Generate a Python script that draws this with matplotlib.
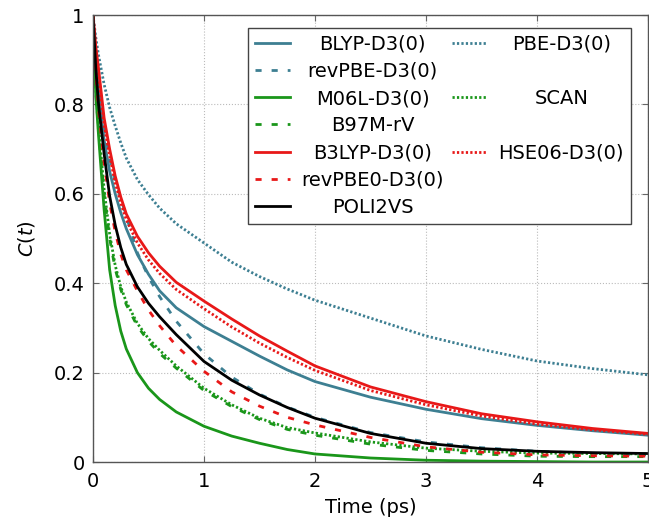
import matplotlib
matplotlib.use("Agg")
import matplotlib.pyplot as plt
from matplotlib.lines import Line2D

# time grid (ps) and correlation values
t = [0, 0.025, 0.05, 0.1, 0.15, 0.2, 0.25, 0.3, 0.4, 0.5, 0.6, 0.75,
     1.0, 1.25, 1.5, 1.75, 2.0, 2.5, 3.0, 3.5, 4.0, 4.5, 5.0]

blyp = [1.0, 0.90, 0.83, 0.72, 0.65, 0.60, 0.558, 0.522, 0.464, 0.42, 0.383, 0.345,
        0.303, 0.27, 0.237, 0.206, 0.18, 0.145, 0.118, 0.097, 0.082, 0.07, 0.06]
revpbe = [1.0, 0.91, 0.85, 0.75, 0.68, 0.63, 0.59, 0.55, 0.468, 0.414, 0.37, 0.315,
          0.242, 0.19, 0.152, 0.123, 0.10, 0.066, 0.045, 0.032, 0.024, 0.019, 0.016]
pbe = [1.0, 0.95, 0.91, 0.845, 0.793, 0.752, 0.714, 0.68, 0.632, 0.598, 0.568, 0.533,
       0.49, 0.447, 0.415, 0.387, 0.362, 0.322, 0.282, 0.252, 0.226, 0.209, 0.195]
m06l = [1.0, 0.82, 0.73, 0.565, 0.43, 0.35, 0.293, 0.253, 0.20, 0.165, 0.14, 0.112,
        0.08, 0.058, 0.042, 0.028, 0.018, 0.009, 0.004, 0.002, 0.001, 0.0, 0.0]
b97m = [1.0, 0.83, 0.74, 0.60, 0.50, 0.432, 0.386, 0.352, 0.304, 0.27, 0.243, 0.21,
        0.16, 0.124, 0.095, 0.073, 0.06, 0.04, 0.026, 0.018, 0.013, 0.012, 0.012]
scan = [1.0, 0.84, 0.75, 0.61, 0.51, 0.44, 0.392, 0.358, 0.31, 0.276, 0.25, 0.215,
        0.165, 0.128, 0.098, 0.077, 0.065, 0.045, 0.031, 0.024, 0.02, 0.019, 0.018]
b3lyp = [1.0, 0.93, 0.88, 0.77, 0.70, 0.64, 0.593, 0.555, 0.505, 0.468, 0.438, 0.402,
         0.36, 0.32, 0.282, 0.248, 0.215, 0.168, 0.135, 0.108, 0.09, 0.075, 0.064]
revpbe0 = [1.0, 0.87, 0.79, 0.67, 0.58, 0.515, 0.465, 0.43, 0.383, 0.34, 0.305, 0.26,
           0.203, 0.157, 0.125, 0.10, 0.083, 0.055, 0.034, 0.022, 0.016, 0.014, 0.013]
hse06 = [1.0, 0.92, 0.86, 0.755, 0.685, 0.625, 0.58, 0.542, 0.49, 0.452, 0.422, 0.386,
         0.343, 0.302, 0.266, 0.234, 0.205, 0.16, 0.128, 0.103, 0.085, 0.072, 0.062]
poli2vs = [1.0, 0.88, 0.80, 0.69, 0.595, 0.53, 0.48, 0.442, 0.392, 0.355, 0.325, 0.285,
           0.225, 0.183, 0.15, 0.122, 0.098, 0.064, 0.042, 0.03, 0.024, 0.021, 0.019]

teal = '#3d7f92'
green = '#1a961a'
red = '#e81818'
dash = (0, (2.2, 3.6))
dot = (0, (0.8, 0.8))

plt.rcParams['font.family'] = ['DejaVu Sans']
plt.rcParams['font.size'] = 14

fig = plt.figure(figsize=(6.49, 5.21), dpi=100)
ax = fig.add_axes([0.1433, 0.1132, 0.8552, 0.858])

lw = 2.0
l_blyp, = ax.plot(t, blyp, color=teal, lw=lw, label='BLYP-D3(0)')
l_revpbe, = ax.plot(t, revpbe, color=teal, lw=lw, ls=dash, label='revPBE-D3(0)')
l_pbe, = ax.plot(t, pbe, color=teal, lw=lw, ls=dot, label='PBE-D3(0)')
l_m06l, = ax.plot(t, m06l, color=green, lw=lw, label='M06L-D3(0)')
l_b97m, = ax.plot(t, b97m, color=green, lw=lw, ls=dash, label='B97M-rV')
l_scan, = ax.plot(t, scan, color=green, lw=lw, ls=dot, label='SCAN')
l_b3lyp, = ax.plot(t, b3lyp, color=red, lw=lw, label='B3LYP-D3(0)')
l_revpbe0, = ax.plot(t, revpbe0, color=red, lw=lw, ls=dash, label='revPBE0-D3(0)')
l_hse, = ax.plot(t, hse06, color=red, lw=lw, ls=dot, label='HSE06-D3(0)')
l_poli, = ax.plot(t, poli2vs, color='black', lw=lw, label='POLI2VS')

ax.set_xlim(0, 5)
ax.set_ylim(0, 1)
ax.set_xticks([0, 1, 2, 3, 4, 5])
ax.set_yticks([0, 0.2, 0.4, 0.6, 0.8, 1])
ax.set_yticklabels(['0', '0.2', '0.4', '0.6', '0.8', '1'])
ax.set_xlabel('Time (ps)', fontsize=14, labelpad=5)
ax.set_ylabel(r'$C(t)$', fontsize=14, labelpad=12)
ax.tick_params(direction='in', top=True, right=True, length=4, width=0.8,
               color='#666666', labelsize=14)
ax.tick_params(axis='x', pad=7)
ax.tick_params(axis='y', pad=6)
ax.grid(True, linestyle=':', color='#bbbbbb', linewidth=0.8)
for sp in ax.spines.values():
    sp.set_color('#555555')
    sp.set_linewidth(1.0)

blank = Line2D([], [], linestyle='none')
handles = [l_blyp, l_revpbe, l_m06l, l_b97m, l_b3lyp, l_revpbe0, l_poli,
           l_pbe, blank, l_scan, blank, l_hse, blank, blank]
labels = [h.get_label() if h is not blank else '' for h in handles]
leg = ax.legend(handles, labels, ncol=2, loc='upper right',
                bbox_to_anchor=(0.969, 0.971), borderaxespad=0,
                fontsize=14, labelspacing=0.42, columnspacing=0.4,
                handlelength=1.8, handletextpad=0.6, borderpad=0.35,
                fancybox=False, framealpha=1)
leg.get_frame().set_edgecolor('#444444')
leg.get_frame().set_linewidth(1.0)

# centre the labels inside each legend column
fig.canvas.draw()
renderer = fig.canvas.get_renderer()
texts = leg.get_texts()
for col in (texts[:7], texts[7:]):
    widths = [tx.get_window_extent(renderer).width if tx.get_text() else 0 for tx in col]
    wmax = max(widths)
    for tx, w in zip(col, widths):
        tx.set_x((wmax - w) / 2)

fig.savefig('out.png', dpi=100)
